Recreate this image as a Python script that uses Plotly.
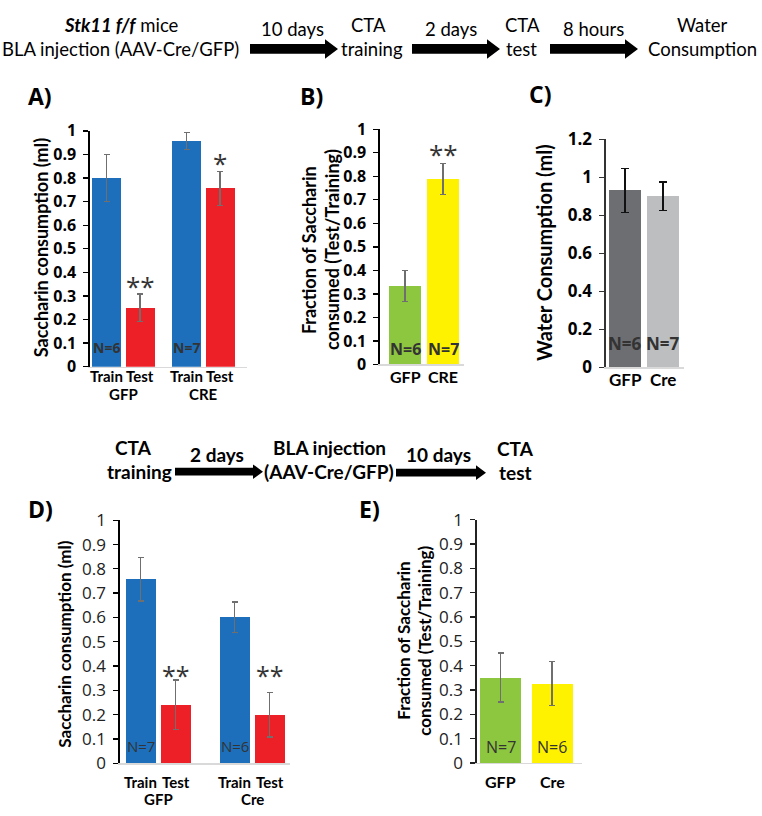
import plotly.graph_objects as go

W, H = 762, 816

# ---------------- data ----------------
A_groups = ["GFP", "CRE"]
A_conditions = ["Train", "Test"]
A_means = [0.80, 0.25, 0.957, 0.757]
A_sem = [0.10, 0.058, 0.037, 0.072]
A_n = ["N=6", "N=7"]
A_sig = ["", "**", "", "*"]

B_groups = ["GFP", "CRE"]
B_means = [0.333, 0.788]
B_sem = [0.066, 0.066]
B_n = ["N=6", "N=7"]
B_sig = ["", "**"]

C_groups = ["GFP", "Cre"]
C_means = [0.932, 0.900]
C_sem = [0.116, 0.076]
C_n = ["N=6", "N=7"]

D_groups = ["GFP", "Cre"]
D_conditions = ["Train", "Test"]
D_means = [0.757, 0.241, 0.600, 0.199]
D_sem = [0.089, 0.102, 0.063, 0.091]
D_n = ["N=7", "N=6"]
D_sig = ["", "**", "", "**"]

E_groups = ["GFP", "Cre"]
E_means = [0.351, 0.326]
E_sem = [0.101, 0.090]
E_n = ["N=7", "N=6"]

# ---------------- style ----------------
BLUE, RED = "#1D6FBB", "#EE2027"
GREEN, YELLOW = "#8DC63F", "#FFF200"
DGRAY, LGRAY = "#6D6E71", "#BCBEC0"
ERR = "#6f6f6f"
TXT = "#333333"
LATO = "Lato"
OPEN = "Open Sans"


def px(x):
    return x / W


def py(y):
    return 1 - y / H


fig = go.Figure()
annotations = []
shapes = []

# panel geometry: (axis suffix, x_left, x_len, y_zero_px, y_top_px, y_max)
panels = {
    "A": ("", 90, 157, 365.0, 122.3, 1.0),
    "B": ("2", 380, 84, 362.7, 120.7, 1.0),
    "C": ("3", 606, 78, 365.7, 131.0, 1.2),
    "D": ("4", 120, 170, 773.0, 523.0, 1.0),
    "E": ("5", 477, 105, 772.7, 522.3, 1.0),
}


def grouped_positions(ngroups, ncond, first, pitch, gap):
    pos = []
    for g in range(ngroups):
        for c in range(ncond):
            pos.append(first + g * gap + c * pitch)
    return pos


posA = grouped_positions(len(A_groups), len(A_conditions), 16.5, 33.5, 80)
posB = grouped_positions(len(B_groups), 1, 25, 0, 38)
posC = grouped_positions(len(C_groups), 1, 19, 0, 38)
posD = grouped_positions(len(D_groups), len(D_conditions), 20.5, 35, 94)
posE = grouped_positions(len(E_groups), 1, 23.5, 0, 51.5)


def add_bars(key, pos, means, sem, colors, width, errcolor, errw=3):
    suf = panels[key][0]
    fig.add_trace(go.Bar(
        x=pos, y=means, width=width,
        marker=dict(color=colors, line=dict(width=0)),
        error_y=dict(type="data", array=sem, color=errcolor,
                     thickness=1.3, width=errw),
        xaxis="x" + suf, yaxis="y" + suf, hoverinfo="skip",
    ))


add_bars("A", posA, A_means, A_sem, [BLUE, RED, BLUE, RED], 29, ERR)
add_bars("B", posB, B_means, B_sem, [GREEN, YELLOW], 32, ERR)
add_bars("C", posC, C_means, C_sem, [DGRAY, LGRAY], 32, "#111111", 4)
add_bars("D", posD, D_means, D_sem, [BLUE, RED, BLUE, RED], 30, ERR)
add_bars("E", posE, E_means, E_sem, [GREEN, YELLOW], 41, ERR)

layout_axes = {}
tickstyle = {
    "A": dict(dtick=0.1, font=dict(family=OPEN, size=16, color="black", weight="bold"), color="black"),
    "B": dict(dtick=0.1, font=dict(family=OPEN, size=16, color="black", weight="bold"), color="black"),
    "C": dict(dtick=0.2, font=dict(family=OPEN, size=17, color="black", weight="bold"), color="#333333"),
    "D": dict(dtick=0.1, font=dict(family=OPEN, size=17, color="#222222"), color="black"),
    "E": dict(dtick=0.1, font=dict(family=OPEN, size=17, color="#222222"), color="#222222"),
}
for key, (suf, xl, xlen, y0, y1, ymax) in panels.items():
    ts = tickstyle[key]
    layout_axes["xaxis" + suf] = dict(
        domain=[px(xl), px(xl + xlen)], range=[0, xlen], anchor="y" + suf,
        showline=True, linecolor="#d9d9d9", linewidth=1.5, showgrid=False,
        zeroline=False, showticklabels=False, ticks="", fixedrange=True,
    )
    layout_axes["yaxis" + suf] = dict(
        domain=[py(y0), py(y1)], range=[0, ymax], anchor="x" + suf,
        showline=True, linecolor=ts["color"], linewidth=1.6, showgrid=False,
        zeroline=False, ticks="outside", ticklen=5, tickwidth=1.3,
        tickcolor=ts["color"], dtick=ts["dtick"], tick0=0, tickfont=ts["font"],
        ticklabelstandoff=4, fixedrange=True,
    )


def ann(x, y, text, size, bold=False, family=LATO, color="black", xref="paper", yref="paper",
        angle=0, yshift=0, xanchor="center"):
    annotations.append(dict(
        x=x, y=y, xref=xref, yref=yref, text=text, showarrow=False,
        xanchor=xanchor, yanchor="middle", textangle=angle, yshift=yshift,
        font=dict(family=family, size=size, color=color,
                  weight="bold" if bold else "normal"),
    ))


# ---- panel letters
for lab, (x, y) in {"A)": (40, 86), "B)": (311, 86), "C)": (540, 84),
                    "D)": (40, 511), "E)": (369, 511)}.items():
    ann(px(x), py(y), lab, 23, bold=True, family=OPEN)

# ---- y titles
ann(px(41), py(243), "Saccharin consumption (ml)", 18, bold=True, angle=-90)
ann(px(309), py(245), "Fraction of Saccharin", 18, bold=True, angle=-90)
ann(px(332), py(245), "consumed (Test/Training)", 18, bold=True, angle=-90)
ann(px(544), py(248), "Water Consumption (ml)", 20, bold=True, angle=-90)
ann(px(65), py(651), "Saccharin consumption (ml)", 17, bold=True, angle=-90)
ann(px(404), py(647), "Fraction of Saccharin", 17, bold=True, angle=-90)
ann(px(425), py(647), "consumed (Test/Training)", 17, bold=True, angle=-90)

# ---- x labels (conditions and groups)
def cond_labels(key, pos, conds, groups, ycond, ygroup, size):
    suf = panels[key][0]
    nc = len(conds)
    for i, p in enumerate(pos):
        ann(p, py(ycond), conds[i % nc], size, bold=True, xref="x" + suf)
    for g, name in enumerate(groups):
        gp = pos[g * nc:(g + 1) * nc]
        ann(sum(gp) / len(gp), py(ygroup), name, size, bold=True, xref="x" + suf)


cond_labels("A", posA, A_conditions, A_groups, 375, 393, 15)
cond_labels("D", posD, D_conditions, D_groups, 792, 810, 15)
for key, pos, groups, yy, size in [("B", posB, B_groups, 375, 16), ("C", posC, C_groups, 378, 17),
                                   ("E", posE, E_groups, 792, 16)]:
    suf = panels[key][0]
    for p, name in zip(pos, groups):
        ann(p, py(yy), name, size, bold=True, xref="x" + suf)

# ---- N labels
def n_labels(key, pos, labels, step, yval, size, bold, family):
    suf = panels[key][0]
    for i, lab in enumerate(labels):
        ann(pos[i * step], yval, lab, size, bold=bold, family=family, color=TXT,
            xref="x" + suf, yref="y" + suf)


n_labels("A", posA, A_n, 2, 0.08, 14, True, OPEN)
n_labels("B", posB, B_n, 1, 0.066, 16, True, OPEN)
n_labels("C", posC, C_n, 1, 0.126, 17, True, OPEN)
n_labels("D", posD, D_n, 2, 0.072, 15, False, OPEN)
n_labels("E", posE, E_n, 1, 0.067, 16, False, OPEN)

# ---- significance stars
def stars(key, pos, sig, means, sem, shift, size, fixed=None):
    suf = panels[key][0]
    for p, s, m, e in zip(pos, sig, means, sem):
        if s:
            yv = fixed if fixed is not None else m + e
            ann(p, yv, s, size, family=OPEN, color="#333333", xref="x" + suf,
                yref="y" + suf, yshift=shift)


stars("A", posA, A_sig, A_means, A_sem, 8, 26)
stars("B", posB, B_sig, B_means, B_sem, 10, 26)
stars("D", posD, D_sig, D_means, D_sem, -2, 25, fixed=0.372)

# ---- timeline headers
def arrow(x0, x1, yc, shaft, head, hl):
    pts = [(x0, yc - shaft / 2), (x1 - hl, yc - shaft / 2), (x1 - hl, yc - head / 2),
           (x1, yc), (x1 - hl, yc + head / 2), (x1 - hl, yc + shaft / 2), (x0, yc + shaft / 2)]
    path = "M " + " L ".join(f"{px(a):.5f},{py(b):.5f}" for a, b in pts) + " Z"
    shapes.append(dict(type="path", path=path, xref="paper", yref="paper",
                       fillcolor="black", line=dict(width=0)))


# top timeline
TOP = 18.5
ann(px(121), py(13), "<i><b>Stk11 f/f</b></i> mice", TOP)
ann(px(120), py(38), "BLA injection (AAV-Cre/GFP)", TOP)
arrow(250, 338, 38, 10, 20, 13)
ann(px(292), py(18), "10 days", TOP)
ann(px(368), py(13), "CTA", TOP)
ann(px(372), py(38), "training", TOP)
arrow(412, 500, 38, 10, 20, 13)
ann(px(451), py(18), "2 days", TOP)
ann(px(522), py(13), "CTA", TOP)
ann(px(521), py(38), "test", TOP)
arrow(550, 638, 38, 10, 20, 13)
ann(px(593), py(18), "8 hours", TOP)
ann(px(702), py(13), "Water", TOP)
ann(px(759), py(38), "Consumption", TOP, xanchor="right")

# bottom timeline
BOT = 19
ann(px(133), py(448), "CTA", BOT, bold=True)
ann(px(139), py(473), "training", BOT, bold=True)
arrow(175, 263, 473, 8, 15, 10)
ann(px(217), py(455), "2 days", BOT, bold=True)
ann(px(329), py(448), "BLA injection", BOT, bold=True)
ann(px(329), py(473), "(AAV-Cre/GFP)", BOT, bold=True)
arrow(396, 486, 474, 8, 15, 10)
ann(px(438), py(455), "10 days", BOT, bold=True)
ann(px(515), py(449), "CTA", BOT, bold=True)
ann(px(515), py(474), "test", BOT, bold=True)

fig.update_layout(
    width=W, height=H, margin=dict(l=0, r=0, t=0, b=0),
    paper_bgcolor="white", plot_bgcolor="white", showlegend=False,
    bargap=0, annotations=annotations, shapes=shapes, hovermode=False,
    font=dict(family=LATO), **layout_axes,
)

fig.write_html("out.html", config={"displayModeBar": False, "staticPlot": True},
               post_script="document.body.style.margin='0';")
